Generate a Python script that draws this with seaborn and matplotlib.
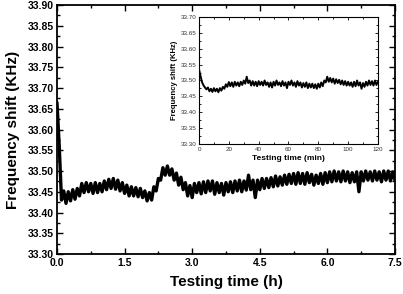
import numpy as np
import pandas as pd
import seaborn as sns
import matplotlib.pyplot as plt
from matplotlib.ticker import MultipleLocator, FormatStrFormatter

# -----------------------------
# DATA
# -----------------------------
# main trace, one value every 0.05 h from 0 to 7.5 h
main_shift = [
    33.665, 33.560, 33.430, 33.452, 33.422, 33.450, 33.428, 33.455, 33.432, 33.458,
    33.440, 33.470, 33.448, 33.472, 33.450, 33.470, 33.446, 33.472, 33.448, 33.470,
    33.450, 33.476, 33.455, 33.480, 33.458, 33.482, 33.456, 33.478, 33.452, 33.472,
    33.446, 33.466, 33.440, 33.462, 33.440, 33.460, 33.438, 33.458, 33.436, 33.452,
    33.428, 33.448, 33.430, 33.462, 33.452, 33.482, 33.478, 33.508, 33.490, 33.512,
    33.490, 33.505, 33.478, 33.495, 33.466, 33.485, 33.455, 33.472, 33.440, 33.465,
    33.436, 33.470, 33.448, 33.472, 33.445, 33.474, 33.448, 33.476, 33.452, 33.476,
    33.444, 33.472, 33.448, 33.470, 33.442, 33.472, 33.450, 33.474, 33.448, 33.476,
    33.452, 33.478, 33.450, 33.476, 33.454, 33.490, 33.455, 33.478, 33.436, 33.478,
    33.455, 33.482, 33.458, 33.482, 33.460, 33.484, 33.462, 33.488, 33.464, 33.486,
    33.466, 33.490, 33.468, 33.492, 33.470, 33.494, 33.468, 33.496, 33.470, 33.494,
    33.468, 33.496, 33.472, 33.492, 33.466, 33.490, 33.470, 33.494, 33.468, 33.496,
    33.472, 33.498, 33.474, 33.500, 33.476, 33.498, 33.474, 33.500, 33.476, 33.498,
    33.472, 33.496, 33.474, 33.498, 33.450, 33.498, 33.476, 33.500, 33.478, 33.498,
    33.476, 33.500, 33.478, 33.498, 33.474, 33.500, 33.478, 33.500, 33.476, 33.498,
    33.478,
]
main_time_h = np.linspace(0, 7.5, len(main_shift))

# inset trace, one value per minute from 0 to 120 min
inset_shift = [
    33.535, 33.515, 33.495, 33.485, 33.478, 33.472, 33.478, 33.466, 33.474, 33.464,
    33.476, 33.466, 33.474, 33.463, 33.476, 33.468, 33.480, 33.474, 33.488, 33.480,
    33.495, 33.482, 33.494, 33.480, 33.496, 33.484, 33.494, 33.482, 33.496, 33.486,
    33.500, 33.490, 33.512, 33.492, 33.500, 33.484, 33.498, 33.484, 33.496, 33.482,
    33.498, 33.486, 33.496, 33.484, 33.500, 33.486, 33.494, 33.480, 33.494, 33.478,
    33.496, 33.484, 33.500, 33.486, 33.494, 33.482, 33.498, 33.484, 33.494, 33.476,
    33.496, 33.486, 33.500, 33.484, 33.494, 33.480, 33.498, 33.484, 33.494, 33.478,
    33.492, 33.480, 33.494, 33.476, 33.490, 33.478, 33.490, 33.476, 33.488, 33.474,
    33.490, 33.478, 33.494, 33.482, 33.500, 33.494, 33.512, 33.496, 33.508, 33.494,
    33.506, 33.490, 33.504, 33.492, 33.502, 33.488, 33.500, 33.486, 33.498, 33.484,
    33.496, 33.484, 33.494, 33.480, 33.496, 33.482, 33.500, 33.484, 33.494, 33.474,
    33.492, 33.480, 33.496, 33.484, 33.500, 33.486, 33.498, 33.484, 33.500, 33.486,
    33.496,
]
inset_time_min = np.linspace(0, 120, len(inset_shift))

df_main = pd.DataFrame({"t": main_time_h, "f": main_shift})
df_inset = pd.DataFrame({"t": inset_time_min, "f": inset_shift})

# -----------------------------
# STYLE
# -----------------------------
sns.set_style("ticks")
plt.rcParams["font.family"] = ["Liberation Sans", "DejaVu Sans"]
plt.rcParams["xtick.direction"] = "in"
plt.rcParams["ytick.direction"] = "in"
for key in ["text.color", "axes.labelcolor", "xtick.color", "ytick.color", "axes.edgecolor"]:
    plt.rcParams[key] = "black"

fig = plt.figure(figsize=(4.03, 2.94), dpi=100)

# -----------------------------
# MAIN PLOT
# -----------------------------
ax = fig.add_axes([0.1414, 0.136, 0.8387, 0.847])
sns.lineplot(x="t", y="f", data=df_main, ax=ax, color="black",
             linewidth=2.4, estimator=None)
ax.set_xlim(0, 7.5)
ax.set_ylim(33.30, 33.90)
ax.xaxis.set_major_locator(MultipleLocator(1.5))
ax.xaxis.set_minor_locator(MultipleLocator(0.75))
ax.yaxis.set_major_locator(MultipleLocator(0.05))
ax.yaxis.set_minor_locator(MultipleLocator(0.025))
ax.xaxis.set_major_formatter(FormatStrFormatter("%.1f"))
ax.yaxis.set_major_formatter(FormatStrFormatter("%.2f"))
ax.tick_params(which="both", top=True, right=True, width=1.0)
ax.tick_params(which="major", length=4, labelsize=7.5)
ax.tick_params(axis="x", which="major", pad=3)
ax.tick_params(axis="y", which="major", pad=2)
ax.tick_params(which="minor", length=2)
for lab in ax.get_xticklabels() + ax.get_yticklabels():
    lab.set_fontweight("bold")
for s in ax.spines.values():
    s.set_linewidth(1.3)
ax.set_xlabel("Testing time (h)", fontsize=11, fontweight="bold", labelpad=5)
ax.set_ylabel("Frequency shift (KHz)", fontsize=11, fontweight="bold", labelpad=6)

# -----------------------------
# INSET
# -----------------------------
ins = fig.add_axes([0.4938, 0.5102, 0.444, 0.432])
sns.lineplot(x="t", y="f", data=df_inset, ax=ins, color="black",
             linewidth=1.4, estimator=None)
ins.set_xlim(0, 120)
ins.set_ylim(33.30, 33.70)
ins.xaxis.set_major_locator(MultipleLocator(20))
ins.xaxis.set_minor_locator(MultipleLocator(10))
ins.yaxis.set_major_locator(MultipleLocator(0.05))
ins.yaxis.set_minor_locator(MultipleLocator(0.025))
ins.yaxis.set_major_formatter(FormatStrFormatter("%.2f"))
ins.tick_params(which="both", top=True, right=True, width=0.6)
ins.tick_params(which="major", length=2.5, labelsize=4.5, pad=2, labelcolor="#333333")
ins.tick_params(which="minor", length=1.2)
for s in ins.spines.values():
    s.set_linewidth(0.8)
ins.set_xlabel("Testing time (min)", fontsize=6, fontweight="bold", labelpad=2)
ins.set_ylabel("Frequency shift (KHz)", fontsize=5.5, fontweight="bold", labelpad=2)

fig.savefig("out.png", dpi=100)
